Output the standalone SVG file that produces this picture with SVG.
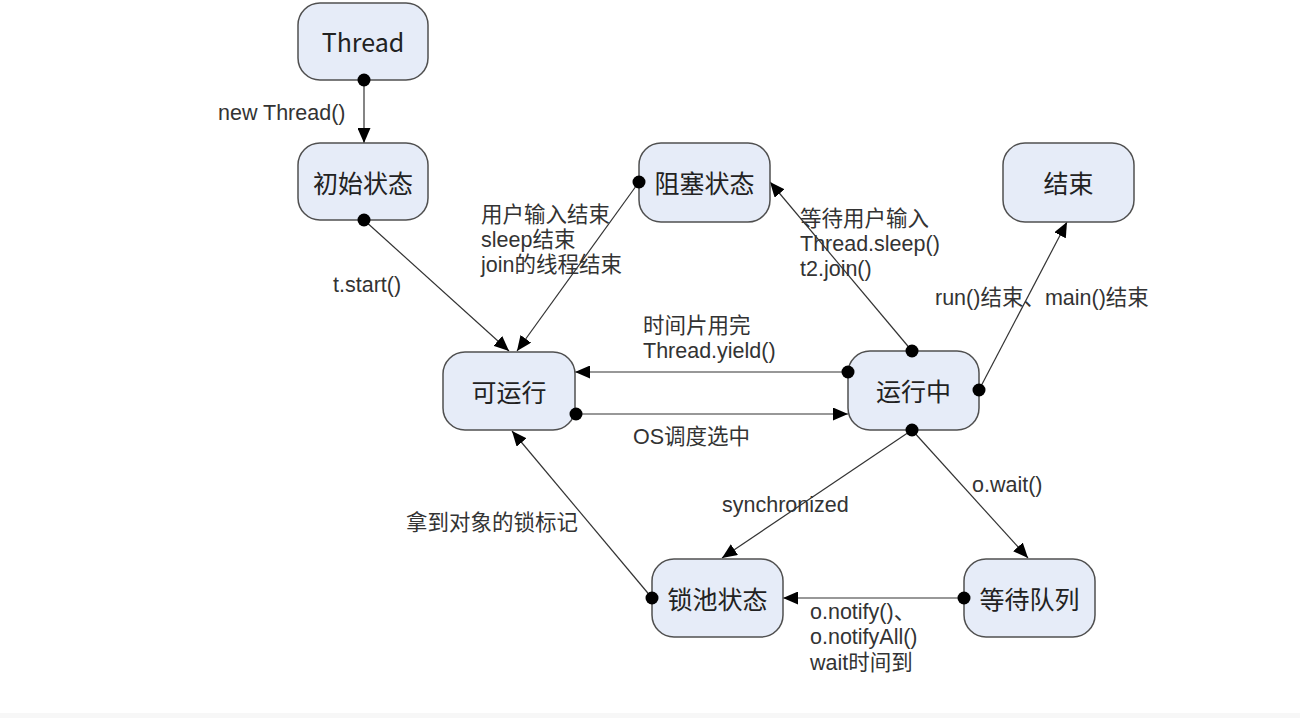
<svg xmlns="http://www.w3.org/2000/svg" width="1300" height="718" viewBox="0 0 1300 718">
<style>
.node rect{fill:#e6ecf8;stroke:#505050;stroke-width:1.5}
.node text{font-family:"Noto Sans CJK SC","Noto Sans",sans-serif;font-size:25px;fill:#222;text-anchor:middle;dominant-baseline:central}
.lbl{font-family:"Liberation Sans","Noto Sans CJK SC",sans-serif;font-size:21.5px;fill:#333}
.edge line{stroke:#333;stroke-width:1.2;marker-end:url(#arr)}
.dot{fill:#000}
</style>
<defs>
<marker id="arr" viewBox="0 0 15 13" refX="15" refY="6.5" markerWidth="15" markerHeight="13" markerUnits="userSpaceOnUse" orient="auto">
<path d="M0,0 L15,6.5 L0,13 Z" fill="#000"/>
</marker>
</defs>
<rect x="0" y="713" width="1300" height="5" fill="#f7f7f7"/>
<g id="connectors" class="edge">
<line x1="364" y1="80" x2="364" y2="143"/>
<line x1="364" y1="220" x2="509" y2="351"/>
<line x1="639" y1="182" x2="517" y2="351"/>
<line x1="912" y1="351" x2="770" y2="182"/>
<line x1="979" y1="390" x2="1067" y2="222"/>
<line x1="848" y1="372" x2="575" y2="372"/>
<line x1="575" y1="414" x2="848" y2="414"/>
<line x1="912" y1="430" x2="722" y2="558"/>
<line x1="912" y1="430" x2="1028" y2="558"/>
<line x1="964" y1="598" x2="783" y2="598"/>
<line x1="652" y1="598" x2="512" y2="431"/>
</g>
<g id="n-thread" class="node"><rect x="298" y="3" width="130" height="77" rx="22"/><text x="363" y="41">Thread</text></g>
<g id="n-init" class="node"><rect x="298" y="143" width="130" height="77" rx="22"/><text x="363" y="182">初始状态</text></g>
<g id="n-blocked" class="node"><rect x="639" y="143" width="131" height="79" rx="22"/><text x="704.5" y="182">阻塞状态</text></g>
<g id="n-end" class="node"><rect x="1003" y="143" width="131" height="79" rx="22"/><text x="1068.5" y="182">结束</text></g>
<g id="n-runnable" class="node"><rect x="443" y="352" width="132" height="78" rx="22"/><text x="509" y="391">可运行</text></g>
<g id="n-running" class="node"><rect x="848" y="351" width="131" height="79" rx="22"/><text x="913.5" y="390">运行中</text></g>
<g id="n-lockpool" class="node"><rect x="652" y="559" width="131" height="78" rx="22"/><text x="717.5" y="598">锁池状态</text></g>
<g id="n-waitqueue" class="node"><rect x="964" y="559" width="131" height="78" rx="22"/><text x="1029.5" y="598">等待队列</text></g>
<g id="dots">
<circle class="dot" cx="364" cy="80" r="6.5"/>
<circle class="dot" cx="364" cy="220" r="6.5"/>
<circle class="dot" cx="639" cy="182" r="6.5"/>
<circle class="dot" cx="912" cy="351" r="6.5"/>
<circle class="dot" cx="979" cy="390" r="6.5"/>
<circle class="dot" cx="848" cy="372" r="6.5"/>
<circle class="dot" cx="576" cy="414" r="6.5"/>
<circle class="dot" cx="912" cy="430" r="6.5"/>
<circle class="dot" cx="964" cy="598" r="6.5"/>
<circle class="dot" cx="652" cy="598" r="6.5"/>
</g>
<g id="labels" class="lbl">
<text x="218" y="120">new Thread()</text>
<text x="333" y="292">t.start()</text>
<text x="481" y="222">用户输入结束</text>
<text x="481" y="247">sleep结束</text>
<text x="481" y="272">join的线程结束</text>
<text x="800" y="226">等待用户输入</text>
<text x="800" y="251">Thread.sleep()</text>
<text x="800" y="276">t2.join()</text>
<text x="935" y="305">run()结束、main()结束</text>
<text x="643" y="333">时间片用完</text>
<text x="643" y="358">Thread.yield()</text>
<text x="633" y="444">OS调度选中</text>
<text x="722" y="512">synchronized</text>
<text x="972" y="492">o.wait()</text>
<text x="406" y="530">拿到对象的锁标记</text>
<text x="810" y="619">o.notify()、</text>
<text x="810" y="644">o.notifyAll()</text>
<text x="810" y="670">wait时间到</text>
</g>
</svg>
